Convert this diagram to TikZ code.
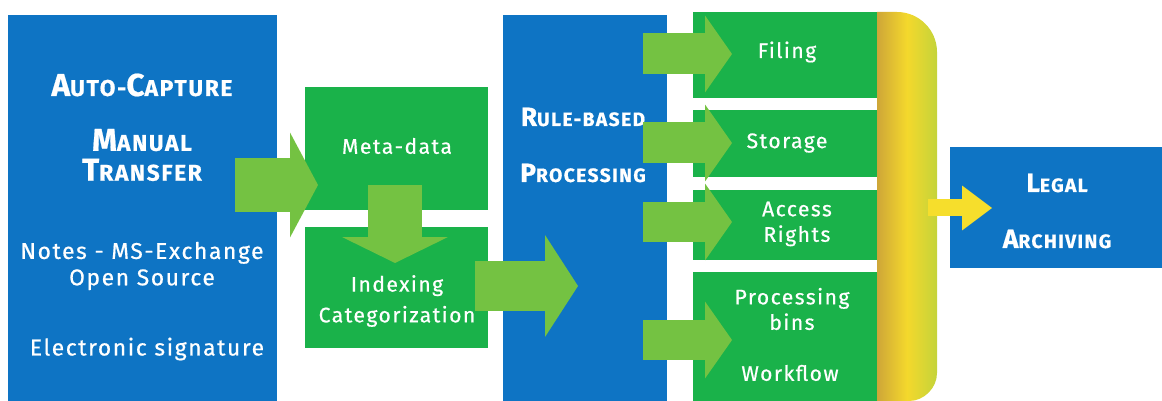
\documentclass[tikz,border=0pt]{standalone}
\usepackage{fontspec}
\setmainfont{Fira Sans}[LetterSpace=7, FakeBold=0.6]
\usepackage{tikz}
\usetikzlibrary{arrows.meta}
\definecolor{boxblue}{RGB}{14,116,196}
\definecolor{boxgreen}{RGB}{26,178,74}
\definecolor{arrowgreen}{RGB}{116,194,66}
\definecolor{arrowyellow}{RGB}{246,222,44}
\definecolor{bandgold}{RGB}{206,166,56}
\definecolor{bandyellow}{RGB}{244,216,44}
\definecolor{bandlime}{RGB}{196,212,58}
\newcommand{\px}{0.02cm}
\newcommand{\capsc}[2]{{\fontsize{15}{17}\selectfont #1}{\fontsize{11}{17}\selectfont #2}}
\newcommand{\capscbig}[2]{{\fontsize{18}{17}\selectfont #1}{\fontsize{13}{17}\selectfont #2}}
\tikzset{
  panel/.style={fill=#1, inner sep=0pt, outer sep=0pt},
  boxtext/.style={text=white, align=center, inner sep=0pt, font=\fontsize{12}{14.5}\selectfont},
  bigtext/.style={boxtext, font=\fontsize{13}{15}\selectfont},
  headtext/.style={text=white, align=center, inner sep=0pt, font=\bfseries\fontsize{18}{17}\selectfont},
  fatarrow/.style n args={4}{draw=#1, line width=#2, -{Triangle[length=#3, width=#4, line width=0pt]}}
}

\begin{document}
\begin{tikzpicture}[x=\px, y=-\px]
\useasboundingbox (0,0) rectangle (1162,401);
%boxes
\node[panel=boxblue] (capture) at (142.5, 212.5) [minimum width=269*\px, minimum height=395*\px] {};
\node[panel=boxgreen] (meta) at (396.5, 148.5) [minimum width=183*\px, minimum height=123*\px] {};
\node[panel=boxgreen] (index) at (396.5, 287.5) [minimum width=183*\px, minimum height=121*\px] {};
\node[panel=boxblue] (rules) at (585, 212.5) [minimum width=164*\px, minimum height=395*\px] {};
\node[panel=boxgreen] (filing) at (786.5, 55) [minimum width=187*\px, minimum height=86*\px] {};
\node[panel=boxgreen] (storage) at (786.5, 143.5) [minimum width=187*\px, minimum height=67*\px] {};
\node[panel=boxgreen] (access) at (786.5, 225) [minimum width=187*\px, minimum height=70*\px] {};
\node[panel=boxgreen] (bins) at (786.5, 341) [minimum width=187*\px, minimum height=138*\px] {};
\node[panel=boxblue] (legal) at (1056, 207.5) [minimum width=212*\px, minimum height=121*\px] {};
%band
\shade[left color=bandgold, right color=bandlime, middle color=bandyellow]
  (877,12) -- (897,12) .. controls (919,12) and (937,30) .. (937,52)
  -- (937,373) .. controls (937,388) and (924,401) .. (909,401) -- (877,401) -- cycle;
%texts
\node[headtext] (t1) at (142, 85) {\capscbig{A}{UTO-}\capscbig{C}{APTURE}};
\node[headtext] (t2) at (142, 155) {\capscbig{M}{ANUAL}\\\capscbig{T}{RANSFER}};
\node[bigtext] (t3) at (142, 266) {Notes - MS-Exchange\\Open Source};
\node[bigtext] (t4) at (147, 349) {Electronic signature};
\node[boxtext] (t5) at (397, 146) {Meta-data};
\node[boxtext] (t6) at (397, 301) {Indexing\\[3pt]Categorization};
\node[headtext] (t7) at (583, 117) {\capsc{R}{ULE-BASED}};
\node[headtext] (t8) at (583, 173) {\capsc{P}{ROCESSING}};
\node[boxtext] (t9) at (787, 52) {Filing};
\node[boxtext] (t10) at (787, 143) {Storage};
\node[boxtext] (t11) at (797, 224) {Access\\Rights};
\node[boxtext] (t12) at (792, 309) {Processing\\bins};
\node[boxtext] (t13) at (790, 373) {Workflow};
\node[headtext] (t14) at (1057, 183) {\capsc{L}{EGAL}};
\node[headtext] (t15) at (1057, 239) {\capsc{A}{RCHIVING}};
%arrows
\coordinate (a1) at (235, 185);  \coordinate (b1) at (318, 185);
\coordinate (a2) at (395, 185);  \coordinate (b2) at (395, 263);
\coordinate (a3) at (475, 286);  \coordinate (b3) at (578, 286);
\coordinate (a4) at (643, 54);   \coordinate (b4) at (732, 54);
\coordinate (a5) at (643, 143);  \coordinate (b5) at (732, 143);
\coordinate (a6) at (643, 222);  \coordinate (b6) at (732, 222);
\coordinate (a7) at (643, 340);  \coordinate (b7) at (732, 340);
\coordinate (a8) at (928, 208);  \coordinate (b8) at (992, 208);
\draw[fatarrow={arrowgreen}{1.08cm}{0.56cm}{2.1cm}] (a1) -- (b1);
\draw[fatarrow={arrowgreen}{1.08cm}{0.52cm}{2.12cm}] (a2) -- (b2);
\draw[fatarrow={arrowgreen}{1.0cm}{0.66cm}{2.04cm}] (a3) -- (b3);
\draw[fatarrow={arrowgreen}{0.82cm}{0.54cm}{1.54cm}] (a4) -- (b4);
\draw[fatarrow={arrowgreen}{0.82cm}{0.54cm}{1.54cm}] (a5) -- (b5);
\draw[fatarrow={arrowgreen}{0.82cm}{0.54cm}{1.54cm}] (a6) -- (b6);
\draw[fatarrow={arrowgreen}{0.82cm}{0.54cm}{1.54cm}] (a7) -- (b7);
\draw[fatarrow={arrowyellow}{0.34cm}{0.6cm}{0.9cm}] (a8) -- (b8);
\end{tikzpicture}
\end{document}
